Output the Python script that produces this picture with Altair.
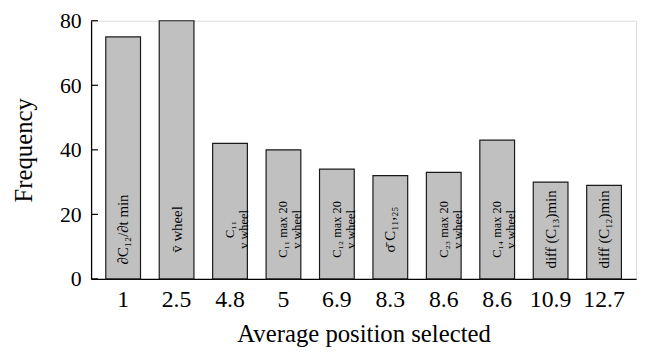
import json
import altair as alt
import pandas as pd

positions = ["1", "2.5", "4.8", "5", "6.9", "8.3", "8.6", "8.6", "10.9", "12.7"]
frequency = [75, 80, 42, 40, 34, 32, 33, 43, 30, 29]
bar_labels = [
    "∂C₁₂/∂t  min",
    "v̄ wheel",
    "C₁₁\nv wheel",
    "C₁₁ max 20\nv wheel",
    "C₁₂ max 20\nv wheel",
    "σ̄ C₁₁,₂₅",
    "C₂₃ max 20\nv wheel",
    "C₁₄ max 20\nv wheel",
    "diff (C₁₃)min",
    "diff (C₁₂)min",
]
y_ticks = [0, 20, 40, 60, 80]

df = pd.DataFrame({
    "idx": list(range(len(positions))),
    "freq": frequency,
    "label": bar_labels,
    "multi": ["\n" in s for s in bar_labels],
})
ticks_df = pd.DataFrame({"t": y_ticks})

FONT = "Liberation Serif"
label_expr = json.dumps(positions) + "[datum.value]"

x_enc = alt.X(
    "idx:O",
    scale=alt.Scale(paddingInner=0.35, paddingOuter=0.275),
    axis=alt.Axis(
        title="Average position selected",
        labelExpr=label_expr,
        labelAngle=0,
        ticks=False,
        labelPadding=9,
        labelFontSize=24,
        labelFont=FONT,
        labelColor="black",
        titleFont=FONT,
        titleFontSize=25,
        titleFontWeight="normal",
        titleColor="black",
        titlePadding=10,
        domainColor="black",
        domainWidth=1.3,
    ),
)
y_scale = alt.Scale(domain=[0, 80], nice=False)

bars = alt.Chart(df).mark_bar(
    color="#c0c0c0", stroke="#1a1a1a", strokeWidth=1.2
).encode(
    x=x_enc,
    y=alt.Y(
        "freq:Q",
        scale=y_scale,
        axis=alt.Axis(
            title="Frequency",
            values=y_ticks,
            ticks=False,
            grid=False,
            labelPadding=10,
            labelFontSize=22,
            labelFont=FONT,
            labelColor="black",
            titleFont=FONT,
            titleFontSize=25,
            titleFontWeight="normal",
            titleColor="black",
            titlePadding=23,
            domainColor="black",
            domainWidth=1.3,
        ),
    ),
)

single = alt.Chart(df).transform_filter("!datum.multi").transform_calculate(zero="0").mark_text(
    angle=270, align="center", baseline="middle", dx=50,
    font=FONT, fontSize=15, color="black",
).encode(x="idx:O", y=alt.Y("zero:Q", scale=y_scale), text="label:N")

multi = alt.Chart(df).transform_filter("datum.multi").transform_calculate(zero="0").mark_text(
    angle=270, align="center", baseline="middle", dx=50,
    font=FONT, fontSize=12.5, lineHeight=14, lineBreak="\n", color="black",
).encode(x="idx:O", y=alt.Y("zero:Q", scale=y_scale), text="label:N")

ytick_marks = alt.Chart(ticks_df).mark_rule(color="black", strokeWidth=1.2).encode(
    y=alt.Y("t:Q", scale=y_scale),
    x=alt.value(0),
    x2=alt.value(7),
)

chart = alt.layer(bars, single, multi, ytick_marks).properties(
    width=551,
    height=261,
    autosize=alt.AutoSizeParams(type="none"),
    padding={"left": 84, "top": 11, "right": 10, "bottom": 72},
).configure_view(stroke=None).configure(background="white")

chart.save("out.html", embed_options={"renderer": "svg", "actions": False})
